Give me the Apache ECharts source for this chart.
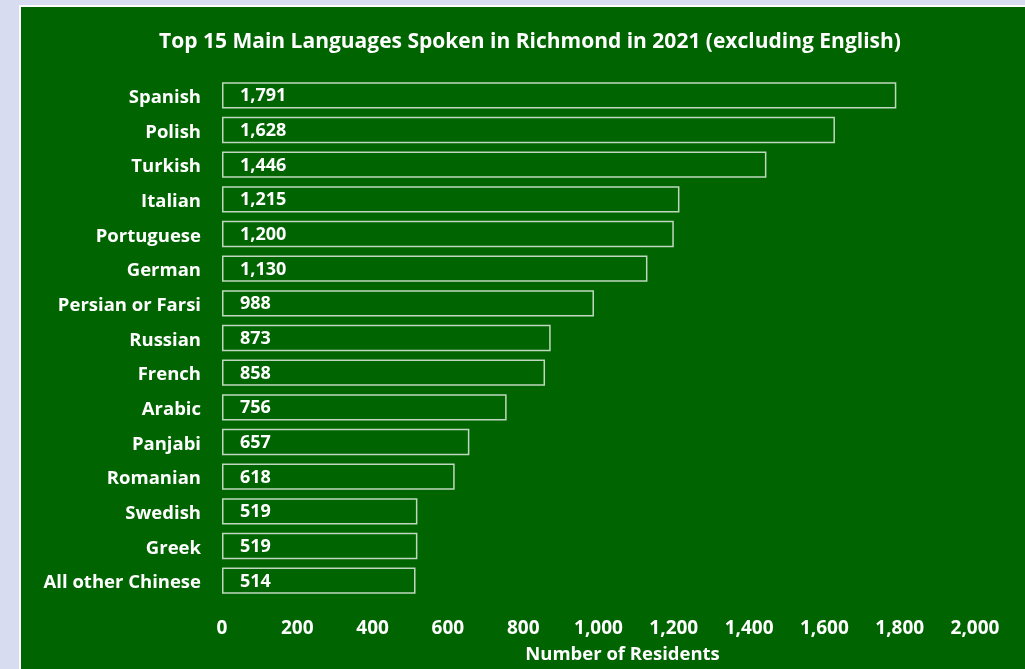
<!DOCTYPE html>
<html>
<head>
<meta charset="utf-8">
<script src="https://cdn.jsdelivr.net/npm/echarts@6/dist/echarts.min.js"></script>
<style>
    html, body { margin: 0; padding: 0; background: #d8dcf0; }
    #panel {
        position: absolute; left: 19px; top: 5px;
        width: 1020px; height: 680px;
        background: #006400; border: 2px solid #ffffff;
    }
    #chart { position: absolute; left: 0; top: 0; width: 1025px; height: 669px; }
</style>
</head>
<body>
<div id="panel"></div>
<div id="chart"></div>
<script>
let languages = [
    "Spanish", "Polish", "Turkish", "Italian", "Portuguese", "German",
    "Persian or Farsi", "Russian", "French", "Arabic", "Panjabi",
    "Romanian", "Swedish", "Greek", "All other Chinese"
];
let residents = [1791, 1628, 1446, 1215, 1200, 1130, 988, 873, 858, 756, 657, 618, 519, 519, 514];
let xTicks = [0, 200, 400, 600, 800, 1000, 1200, 1400, 1600, 1800, 2000];

let fontFamily = "'Open Sans', sans-serif";
let myChart = echarts.init(document.getElementById("chart"));

let option = {
    backgroundColor: "transparent",
    textStyle: { fontFamily: fontFamily },
    title: {
        text: "Top 15 Main Languages Spoken in Richmond in 2021 (excluding English)",
        left: 525,
        textAlign: "center",
        top: 27,
        textStyle: { color: "#ffffff", fontSize: 21, fontWeight: "bold", fontFamily: fontFamily },
    },
    grid: { left: 222, right: 50, top: 78, bottom: 71, containLabel: false },
    xAxis: {
        type: "value",
        min: xTicks[0],
        max: xTicks[xTicks.length - 1],
        interval: 200,
        name: "Number of Residents",
        nameLocation: "middle",
        nameGap: 47,
        nameTextStyle: { color: "#ffffff", fontSize: 18.5, fontWeight: "bold", padding: [0, 0, 0, 48] },
        axisLine: { show: false },
        axisTick: { show: false },
        splitLine: { show: false },
        axisLabel: {
            color: "#ffffff", fontSize: 19, fontWeight: "bold", margin: 21,
            formatter: (v) => v.toLocaleString("en-US"),
        },
    },
    yAxis: {
        type: "category",
        data: languages,
        inverse: true,
        axisLine: { show: false },
        axisTick: { show: false },
        axisLabel: {
            color: "#ffffff", fontSize: 18.5, fontWeight: "bold", margin: 21,
            formatter: (v) => "{l|" + v + "}",
            rich: { l: { color: "#ffffff", fontSize: 18.5, fontWeight: "bold", padding: [5, 0, 0, 0] } },
        },
    },
    series: [
        {
            type: "bar",
            data: residents,
            barCategoryGap: "24%",
            itemStyle: {
                color: "#006400",
                borderColor: "rgba(255,255,255,0.75)",
                borderWidth: 1.5,
            },
            label: {
                show: true,
                position: "insideLeft",
                offset: [13, 1],
                color: "#ffffff",
                fontSize: 18,
                fontWeight: "bold",
                formatter: (p) => p.value.toLocaleString("en-US"),
            },
        },
    ],
};
option && myChart.setOption(option);
</script>
</body>
</html>
